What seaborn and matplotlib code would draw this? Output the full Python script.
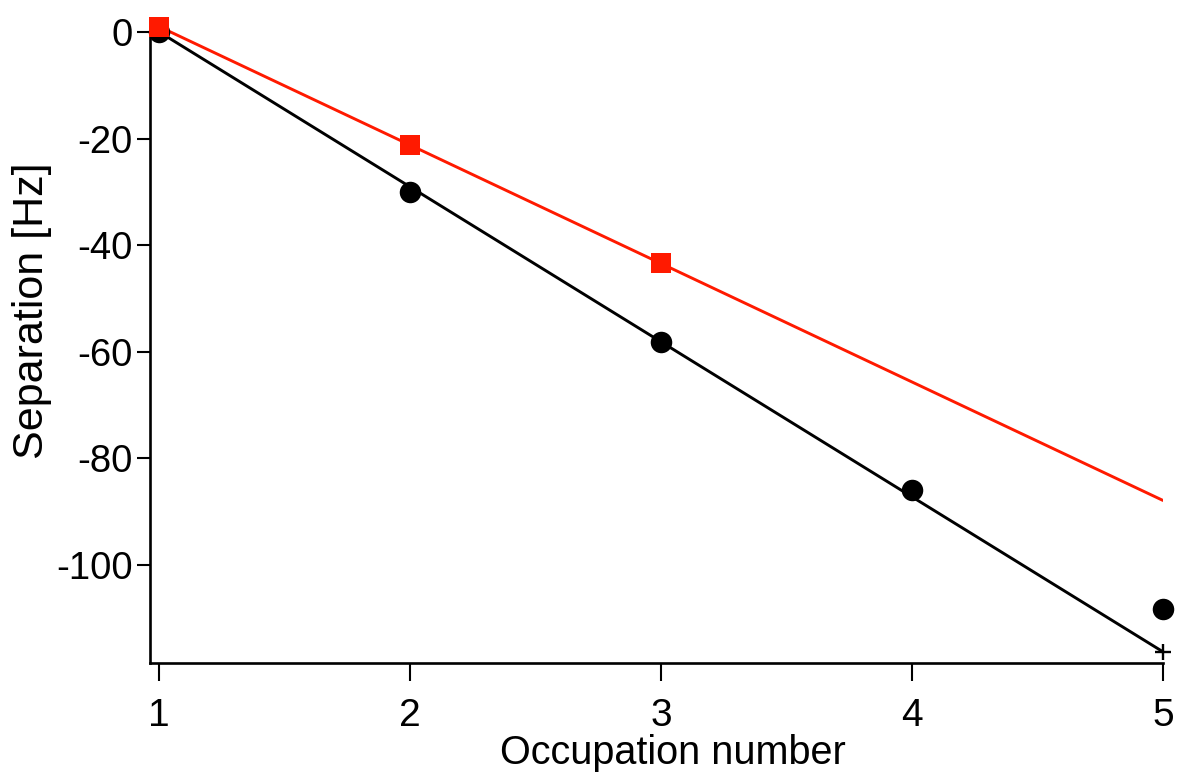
import matplotlib
matplotlib.use("Agg")
import matplotlib.pyplot as plt
import seaborn as sns
import pandas as pd

# Measured separations (Hz) versus occupation number
occupation = [1, 2, 3, 4, 5]
sep_black = [0.0, -30.0, -58.1, -85.9, -108.3]

occupation_red = [1, 2, 3]
sep_red = [1.0, -21.2, -43.4]

# Straight-line guides drawn through each series
fit_x = [1, 5]
fit_black = [0.0, -116.3]
fit_red = [1.0, -87.9]

xticks = [1, 2, 3, 4, 5]
yticks = [0, -20, -40, -60, -80, -100]

sns.set_theme(style="ticks")
plt.rcParams["font.family"] = ["Liberation Sans", "DejaVu Sans"]

W, H = 1186, 783
fig = plt.figure(figsize=(W / 100, H / 100), dpi=100)
ax = fig.add_axes([150 / W, 1 - 663 / H, (1163 - 150) / W, (663 - 30.4) / H])

df_black = pd.DataFrame({"n": occupation, "sep": sep_black})
df_red = pd.DataFrame({"n": occupation_red, "sep": sep_red})
df_fit = pd.DataFrame({"n": fit_x, "black": fit_black, "red": fit_red})

sns.lineplot(data=df_fit, x="n", y="red", ax=ax, color="#ff1a00", lw=2.1, zorder=2)
sns.lineplot(data=df_fit, x="n", y="black", ax=ax, color="black", lw=2.1,
             marker="+", markersize=11, markeredgewidth=1.7,
             markeredgecolor="black", zorder=3, clip_on=False)
sns.scatterplot(data=df_black, x="n", y="sep", ax=ax, color="black", marker="o",
                s=240, linewidth=0, zorder=4, clip_on=False)
sns.scatterplot(data=df_red, x="n", y="sep", ax=ax, color="#ff1a00", marker="s",
                s=225, linewidth=0, zorder=5, clip_on=False)

ax.set_xlim(0.963, 5)
ax.set_ylim(-118.4, 0.3)
ax.set_xticks(xticks)
ax.set_yticks(yticks)
ax.set_xticklabels([str(v) for v in xticks])
ax.set_yticklabels([str(v) for v in yticks])

for side in ("top", "right"):
    ax.spines[side].set_visible(False)
for side in ("left", "bottom"):
    ax.spines[side].set_linewidth(1.9)
    ax.spines[side].set_color("black")

ax.tick_params(axis="x", direction="out", length=13, width=1.5, pad=12,
               labelsize=28, colors="black")
ax.tick_params(axis="y", direction="out", length=9.5, width=1.5, pad=3,
               labelsize=27.5, colors="black")

ax.set_xlabel("Occupation number", fontsize=28.5, color="black")
ax.set_ylabel("Separation [Hz]", fontsize=31, color="black")
ax.xaxis.set_label_coords(0.516, -0.112)
ax.yaxis.set_label_coords(-0.097, 0.557)

fig.savefig("out.png", dpi=100, facecolor="white")
